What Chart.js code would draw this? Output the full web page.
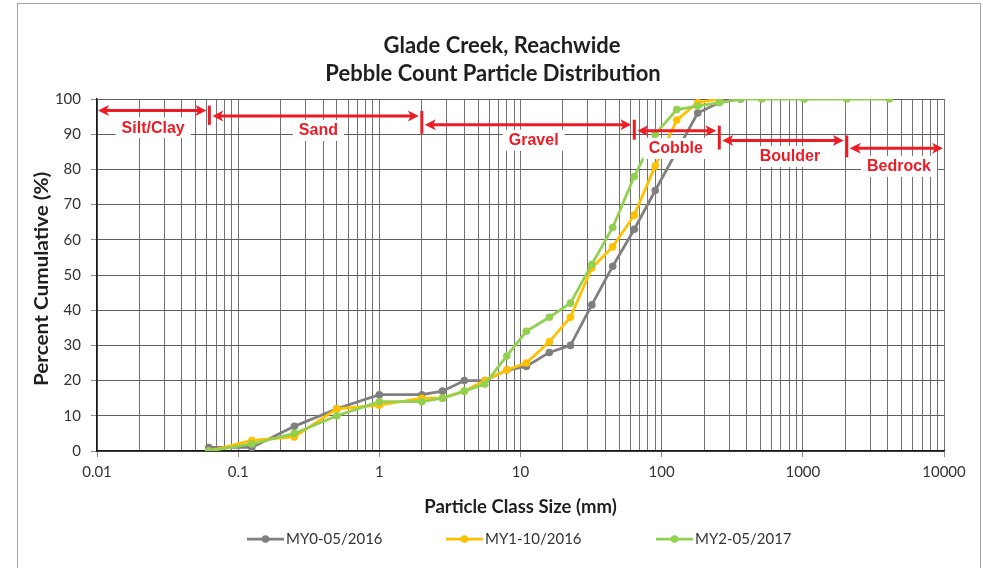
<!DOCTYPE html>
<html><head><meta charset="utf-8">
<script src="https://cdn.jsdelivr.net/npm/chart.js@4/dist/chart.umd.min.js"></script>
<style>html,body{margin:0;padding:0;background:#fff;}#wrap{width:983px;height:568px;position:relative;}</style>
</head><body><div id="wrap"><canvas id="c" width="983" height="568"></canvas></div>
<script>
// ---- data ----
const sizes = [0.062, 0.125, 0.25, 0.5, 1, 2, 2.8, 4, 5.6, 8, 11, 16, 22.6, 32, 45, 64, 90, 128, 180, 256, 362, 512, 1024, 2048, 4096];
const my0 = [1, 1, 7, 12, 16, 16, 17, 20, 20, 23, 24, 28, 30, 41.5, 52.5, 63, 74, null, 96, 99, 100, null, null, null, null];
const my1 = [0, 3, 4, 12, 13, 15, 15, 17, 20, 23, 25, 31, 38, 52, 58, 67, 81, 94, 99, 100, null, null, null, null, null];
const my2 = [0, 2, 5, 10, 14, 14, 15, 17, 19, 27, 34, 38, 42, 53, 63.5, 78, 90, 97, 98, 99, 100, 100, 100, 100, 100];
const seriesNames = ['MY0-05/2016', 'MY1-10/2016', 'MY2-05/2017'];
const xTickLabels = ['0.01', '0.1', '1', '10', '100', '1000', '10000'];
const yTickValues = [0, 10, 20, 30, 40, 50, 60, 70, 80, 90, 100];
const classNames = ['Silt/Clay', 'Sand', 'Gravel', 'Cobble', 'Boulder', 'Bedrock'];
const classBounds = [0.01, 0.0625, 2, 64, 256, 2048, 10000];
const titleLines = ['Glade Creek, Reachwide', 'Pebble Count Particle Distribution'];
const xTitle = 'Particle Class Size (mm)';
const yTitle = 'Percent Cumulative (%)';

// ---- style / layout ----
const colors = ['#7F7F7F', '#FFC000', '#92D050'];
const arrowY = [96.7, 95.2, 92.7, 91.0, 88.2, 86.0];   // y (% units) of each class arrow
const labelY = [92.0, 91.2, 88.4, 86.1, 83.8, 81.0];   // y (% units) of each class label
const labelX = [0.025, 0.37, 12.4, 126, 810, 4800];     // x (mm) of each class label centre
const legendX = [247, 446, 656];
const RED = '#ED1C24';

function isPow10(v) { const l = Math.log10(v); return Math.abs(l - Math.round(l)) < 1e-9; }
const gridVals = [];
for (let e = -2; e <= 3; e++) for (let m = 1; m <= 9; m++) gridVals.push(Number((m * Math.pow(10, e)).toPrecision(6)));
gridVals.push(10000);

function series(vals) { return sizes.map((s, i) => ({x: s, y: vals[i]})).filter(p => p.y !== null); }
const allVals = [my0, my1, my2];
const datasets = allVals.map((v, i) => ({
  label: seriesNames[i], data: series(v), showLine: true,
  borderColor: colors[i], backgroundColor: colors[i], pointBackgroundColor: colors[i],
  borderWidth: 2.75, pointRadius: 3.8, pointBorderWidth: 0, order: 3 - i
}));

function arrowHead(ctx, tipX, y, dir) {
  const L = 11, W = 5.5, N = 8;
  ctx.beginPath();
  ctx.moveTo(tipX, y);
  ctx.lineTo(tipX - dir * L, y - W);
  ctx.lineTo(tipX - dir * N, y);
  ctx.lineTo(tipX - dir * L, y + W);
  ctx.closePath();
  ctx.fill();
}

const decor = {
  id: 'decor',
  beforeDraw(chart) {
    const ctx = chart.ctx;
    ctx.save();
    ctx.fillStyle = '#fff'; ctx.fillRect(0, 0, chart.width, chart.height);
    ctx.strokeStyle = '#a6a6a6'; ctx.lineWidth = 1;
    ctx.strokeRect(17.5, 3.5, 963, 580);
    ctx.restore();
  },
  afterDatasetsDraw(chart) {
    const ctx = chart.ctx, xs = chart.scales.x, ys = chart.scales.y;
    ctx.save();
    ctx.fillStyle = RED; ctx.strokeStyle = RED;
    const n = classNames.length;
    for (let j = 1; j < n; j++) {
      const x = xs.getPixelForValue(classBounds[j]);
      const y1 = ys.getPixelForValue(arrowY[j - 1]) - 5;
      const y2 = ys.getPixelForValue(arrowY[j]) + 9;
      ctx.fillRect(x - 1.5, y1, 3, y2 - y1);
    }
    for (let i = 0; i < n; i++) {
      const xl = xs.getPixelForValue(classBounds[i]) + (i === 0 ? 1 : 3);
      const xr = xs.getPixelForValue(classBounds[i + 1]) - (i === n - 1 ? 1 : 3);
      const y = ys.getPixelForValue(arrowY[i]);
      ctx.lineWidth = 3;
      ctx.beginPath(); ctx.moveTo(xl + 7, y); ctx.lineTo(xr - 7, y); ctx.stroke();
      arrowHead(ctx, xl, y, -1);
      arrowHead(ctx, xr, y, 1);
    }
    ctx.font = 'bold 16px "Liberation Sans", Arial, sans-serif';
    ctx.textAlign = 'center'; ctx.textBaseline = 'middle';
    for (let i = 0; i < n; i++) {
      const lx = xs.getPixelForValue(labelX[i]);
      const ly = ys.getPixelForValue(labelY[i]);
      const w = ctx.measureText(classNames[i]).width;
      ctx.fillStyle = '#fff';
      ctx.fillRect(lx - w / 2 - 6, ly - 10, w + 12, 21);
      ctx.fillStyle = RED;
      ctx.fillText(classNames[i], lx, ly + 1);
    }
    ctx.restore();
  },
  afterDraw(chart) {
    const ctx = chart.ctx, a = chart.chartArea;
    ctx.save();
    ctx.fillStyle = '#1f1f1f';
    ctx.textAlign = 'center'; ctx.textBaseline = 'middle';
    ctx.font = 'bold 22px Lato, sans-serif';
    ctx.fillText(titleLines[0], 502, 46);
    ctx.fillText(titleLines[1], 493, 74);
    ctx.font = 'bold 18.5px Lato, sans-serif';
    ctx.fillText(xTitle, (a.left + a.right) / 2, 507);
    ctx.save();
    ctx.translate(42, 279);
    ctx.rotate(-Math.PI / 2);
    ctx.scale(1.12, 1);
    ctx.fillText(yTitle, 0, 0);
    ctx.restore();
    ctx.font = '15px Lato, sans-serif';
    ctx.textAlign = 'left';
    const ly = 539;
    for (let i = 0; i < seriesNames.length; i++) {
      const x0 = legendX[i];
      ctx.strokeStyle = colors[i]; ctx.lineWidth = 2.75;
      ctx.beginPath(); ctx.moveTo(x0, ly); ctx.lineTo(x0 + 37, ly); ctx.stroke();
      ctx.fillStyle = colors[i];
      ctx.beginPath(); ctx.arc(x0 + 18.5, ly, 3.8, 0, Math.PI * 2); ctx.fill();
      ctx.fillStyle = '#333';
      ctx.fillText(seriesNames[i], x0 + 39, ly);
    }
    ctx.restore();
  }
};

new Chart(document.getElementById('c'), {
  type: 'scatter',
  data: {datasets},
  options: {
    responsive: false, animation: false,
    layout: {padding: {left: 0, top: 99, right: 39, bottom: 87}},
    plugins: {legend: {display: false}, title: {display: false}, tooltip: {enabled: false}},
    scales: {
      x: {
        type: 'logarithmic', min: 0.01, max: 10000,
        afterBuildTicks: s => { s.ticks = gridVals.map(v => ({value: v, major: isPow10(v)})); },
        afterFit: s => { s.height = 30; },
        ticks: {
          autoSkip: false, maxRotation: 0, padding: 6, color: '#333',
          font: {family: 'Lato', size: 15},
          callback: v => isPow10(v) ? xTickLabels[Math.round(Math.log10(v)) + 2] : ''
        },
        grid: {color: '#737373', lineWidth: 1, tickLength: 6,
               tickColor: c => (c.tick && isPow10(c.tick.value)) ? '#8c8c8c' : 'rgba(0,0,0,0)'},
        border: {color: '#1a1a1a', width: 1.5}
      },
      y: {
        min: 0, max: 100,
        afterBuildTicks: s => { s.ticks = yTickValues.map(v => ({value: v})); },
        afterFit: s => { s.width = 97; },
        ticks: {padding: 10, color: '#333', font: {family: 'Lato', size: 15}},
        grid: {color: '#5f5f5f', lineWidth: 1, tickLength: 6, tickColor: '#8c8c8c'},
        border: {color: '#1a1a1a', width: 1.5}
      }
    }
  },
  plugins: [decor]
});
</script></body></html>
